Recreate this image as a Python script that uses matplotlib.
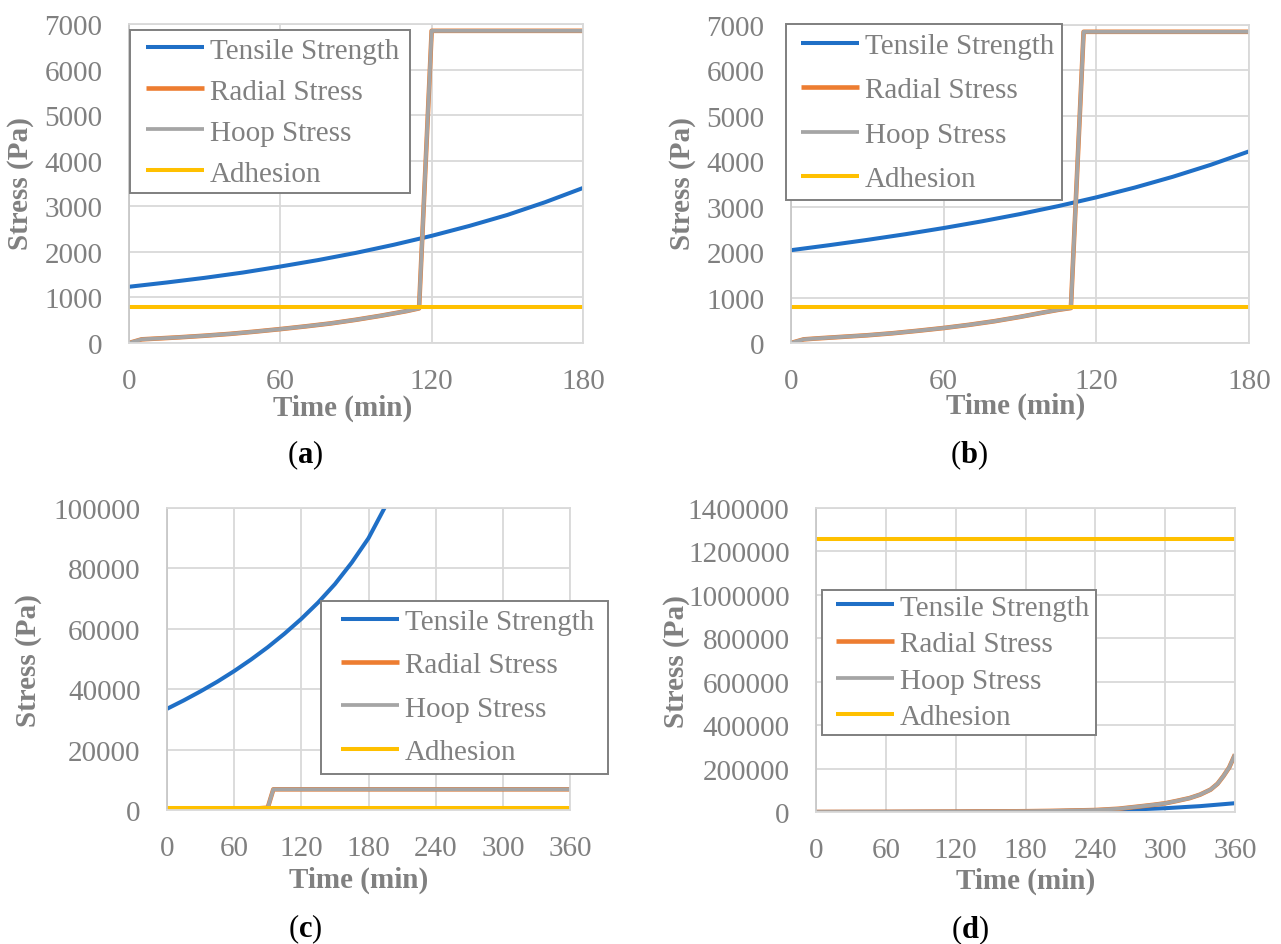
import matplotlib
matplotlib.use('Agg')
import matplotlib.pyplot as plt
from matplotlib.patches import Rectangle

plt.rcParams['font.family'] = ['Liberation Serif', 'DejaVu Serif']
plt.rcParams['mathtext.fontset'] = 'custom'
plt.rcParams['mathtext.rm'] = 'Liberation Serif'
plt.rcParams['mathtext.bf'] = 'Liberation Serif:bold'

# ---------------- data ----------------
series_names = ['Tensile Strength', 'Radial Stress', 'Hoop Stress', 'Adhesion']
series_colors = ['#1f6fc6', '#ED7D31', '#A5A5A5', '#FFC000']

# (a)
a_ts_t = [0, 15, 30, 45, 60, 75, 90, 105, 120, 135, 150, 165, 180]
a_ts = [1234, 1328, 1430, 1545, 1678, 1820, 1978, 2156, 2352, 2570, 2810, 3090, 3402]
a_st_t = [0, 5, 10, 20, 30, 40, 50, 60, 70, 80, 90, 100, 110, 115, 120, 180]
a_radial = [0, 80, 95, 125, 160, 200, 250, 305, 365, 430, 510, 600, 700, 760, 6850, 6850]
a_hoop = [0, 80, 95, 125, 160, 200, 250, 305, 365, 430, 510, 600, 700, 760, 6850, 6850]
a_adh_t = [0, 180]
a_adh = [794, 794]

# (b)
b_ts_t = [0, 15, 30, 45, 60, 75, 90, 105, 120, 135, 150, 165, 180]
b_ts = [2043, 2153, 2270, 2395, 2531, 2678, 2838, 3013, 3206, 3420, 3658, 3923, 4218]
b_st_t = [0, 5, 10, 20, 30, 40, 50, 60, 70, 80, 90, 100, 105, 110, 115, 180]
b_radial = [0, 80, 100, 135, 170, 215, 270, 330, 400, 480, 575, 680, 730, 770, 6850, 6850]
b_hoop = [0, 80, 100, 135, 170, 215, 270, 330, 400, 480, 575, 680, 730, 770, 6850, 6850]
b_adh_t = [0, 180]
b_adh = [794, 794]

# (c)
c_ts_t = [0, 15, 30, 45, 60, 75, 90, 105, 120, 135, 150, 165, 180, 195, 210]
c_ts = [33500, 36300, 39300, 42500, 46000, 49800, 53900, 58400, 63300, 68700, 74800, 81900,
        90000, 100500, 112000]
c_st_t = [0, 5, 30, 60, 80, 90, 95, 360]
c_radial = [0, 80, 170, 330, 500, 760, 6850, 6850]
c_hoop = [0, 80, 170, 330, 500, 760, 6850, 6850]
c_adh_t = [0, 360]
c_adh = [794, 794]

# (d)
d_ts_t = [0, 60, 120, 180, 240, 270, 300, 330, 360]
d_ts = [300, 700, 1500, 3200, 7000, 11000, 17500, 27000, 40500]
d_st_t = [0, 60, 120, 180, 210, 240, 260, 277, 290, 300, 310, 321, 330, 339, 345, 350, 355, 360]
d_radial = [0, 500, 1500, 3500, 5500, 9000, 15000, 25000, 33000, 40000, 51000, 64000, 80000,
            103000, 130000, 165000, 205000, 265000]
d_hoop = [0, 500, 1500, 3500, 5500, 9000, 15000, 25000, 33000, 40000, 51000, 64000, 80000,
          103000, 130000, 165000, 205000, 265000]
d_adh_t = [0, 360]
d_adh = [1259000, 1259000]

ab_xticks = [0, 60, 120, 180]
cd_xticks = [0, 60, 120, 180, 240, 300, 360]
ab_yticks = list(range(0, 7001, 1000))
c_yticks = list(range(0, 100001, 20000))
d_yticks = list(range(0, 1400001, 200000))
captions = ['a', 'b', 'c', 'd']

# ---------------- layout ----------------
W, H = 1281, 945
fig = plt.figure(figsize=(W / 100, H / 100), dpi=100)


def rect(x0, x1, y0, y1):
    return [x0 / W, 1 - y1 / H, (x1 - x0) / W, (y1 - y0) / H]


def fp(x, y):
    return (x / W, 1 - y / H)


TXT = '#808080'
GRID = '#d9d9d9'
FS = 21

panels = [
    dict(rect=rect(129, 583, 25, 344), xt=ab_xticks, yt=ab_yticks,
         ts=(a_ts_t, a_ts), st_t=a_st_t, rad=a_radial, hoop=a_hoop, adh=(a_adh_t, a_adh),
         frame=(130, 410, 31, 194), hx=146, r1=51.7, ls=0.50,
         ylab=(20.5, 184), xlab=(343, 408), cap=(305, 455)),
    dict(rect=rect(791, 1249, 26, 344), xt=ab_xticks, yt=ab_yticks,
         ts=(b_ts_t, b_ts), st_t=b_st_t, rad=b_radial, hoop=b_hoop, adh=(b_adh_t, b_adh),
         frame=(786, 1062, 25, 201), hx=801, r1=46.8, ls=0.62,
         ylab=(683, 184), xlab=(1016, 406), cap=(969, 455)),
    dict(rect=rect(167, 570, 509, 811), xt=cd_xticks, yt=c_yticks,
         ts=(c_ts_t, c_ts), st_t=c_st_t, rad=c_radial, hoop=c_hoop, adh=(c_adh_t, c_adh),
         frame=(321, 608, 602, 775), hx=341, r1=622.8, ls=0.585,
         ylab=(28.6, 660.6), xlab=(359, 880), cap=(305, 929)),
    dict(rect=rect(816, 1235, 509, 813), xt=cd_xticks, yt=d_yticks,
         ts=(d_ts_t, d_ts), st_t=d_st_t, rad=d_radial, hoop=d_hoop, adh=(d_adh_t, d_adh),
         frame=(822, 1096, 591, 736), hx=836, r1=608.7, ls=0.35,
         ylab=(677, 662), xlab=(1026, 881), cap=(970, 930)),
]

for p, cap in zip(panels, captions):
    ax = fig.add_axes(p['rect'])
    ax.plot(p['ts'][0], p['ts'][1], color=series_colors[0], lw=2.9, label=series_names[0],
            solid_capstyle='butt', solid_joinstyle='round')
    ax.plot(p['st_t'], p['rad'], color=series_colors[1], lw=3.3, label=series_names[1],
            solid_capstyle='butt')
    ax.plot(p['st_t'], p['hoop'], color=series_colors[2], lw=2.7, label=series_names[2],
            solid_capstyle='butt')
    ax.plot(p['adh'][0], p['adh'][1], color=series_colors[3], lw=2.9, label=series_names[3],
            solid_capstyle='butt')
    ax.set_xlim(p['xt'][0], p['xt'][-1])
    ax.set_ylim(p['yt'][0], p['yt'][-1])
    ax.set_xticks(p['xt'])
    ax.set_yticks(p['yt'])
    ax.set_xticklabels([str(v) for v in p['xt']])
    ax.set_yticklabels([str(v) for v in p['yt']])
    ax.grid(True, color=GRID, lw=1.3)
    ax.set_axisbelow(True)
    for s in ax.spines.values():
        s.set_color(GRID)
        s.set_linewidth(1.3)
    ax.spines['left'].set_color('#c8c8c8')
    ax.tick_params(axis='both', length=0, labelsize=FS, labelcolor=TXT)
    ax.tick_params(axis='x', pad=18)
    ax.tick_params(axis='y', pad=19)

    ax.set_xlabel('Time (min)', fontsize=FS, fontweight='bold', color=TXT, va='center', ha='center')
    ax.xaxis.set_label_coords(*fp(*p['xlab']), transform=fig.transFigure)
    ax.set_ylabel('Stress (Pa)', fontsize=FS, fontweight='bold', color=TXT, va='center', ha='center')
    ax.yaxis.set_label_coords(*fp(*p['ylab']), transform=fig.transFigure)

    fx0, fx1, fy0, fy1 = p['frame']
    box = Rectangle(fp(fx0, fy1), (fx1 - fx0) / W, (fy1 - fy0) / H, transform=fig.transFigure,
                    facecolor='white', edgecolor='#7f7f7f', lw=1.4, zorder=4.9, clip_on=False)
    ax.add_artist(box)

    leg = ax.legend(loc='upper left', bbox_to_anchor=fp(p['hx'], p['r1'] - 13.5),
                    bbox_transform=fig.transFigure, borderaxespad=0, borderpad=0,
                    fontsize=FS, labelcolor=TXT, frameon=False,
                    handlelength=2.0, handletextpad=0.2, labelspacing=p['ls'])
    leg.set_zorder(5)

    fig.text(*fp(*p['cap']), '($\\mathbf{%s}$)' % cap, fontsize=22, color='black',
             ha='center', va='center')

fig.savefig('out.png', dpi=100)
